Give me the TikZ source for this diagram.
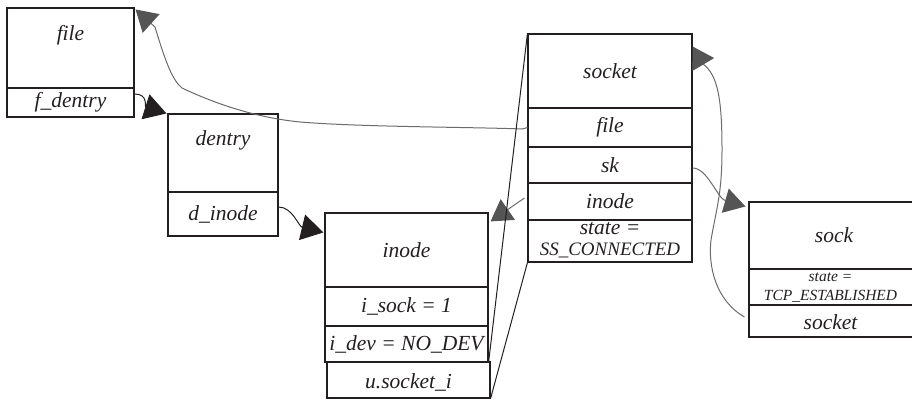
\documentclass[tikz,border=0pt]{standalone}
\usepackage{fontspec}
\setmainfont{Liberation Serif}
\usetikzlibrary{arrows.meta}
\definecolor{ink}{HTML}{231F20}
\definecolor{gline}{HTML}{6B6B6B}
\definecolor{garrow}{HTML}{555555}
\begin{document}
\begin{tikzpicture}[x=1pt,y=-1pt,
  fld/.style 2 args={draw=ink, line width=1.1pt, inner sep=0pt, minimum width=#1pt, minimum height=#2pt, text=ink, font=\fontsize{21.5}{24}\selectfont\itshape},
  lbl/.style={inner sep=0pt, text=ink, font=\fontsize{21.5}{24}\selectfont\itshape, align=center},
  blk/.style={draw=ink, line width=1pt, -{Triangle[length=22pt,width=26pt,color=ink]}},
  gry/.style={draw=gline, line width=1pt, -{Triangle[length=21pt,width=25pt,color=garrow]}},
  ray/.style={draw=ink, line width=1pt}]
\useasboundingbox (0,0) rectangle (912,399);
% file
\node[fld={127}{80}] (file) at (70.5,48) {};
\node[lbl] (fileL) at (70.5,35) {file};
\node[fld={127}{29}] (fdentry) at (70.5,102.5) {f\_dentry};
% dentry
\node[fld={110}{78}] (dentry) at (223,153) {};
\node[lbl] (dentryL) at (223,140) {dentry};
\node[fld={110}{44}] (dinode) at (223,214) {d\_inode};
% inode
\node[fld={163}{74}] (inode) at (406.5,250) {inode};
\node[fld={163}{39}] (isock) at (406.5,306.5) {i\_sock = 1};
\node[fld={163}{36}] (idev) at (406.5,344) {i\_dev = NO\_DEV};
\node[fld={163}{36}] (usock) at (408.5,380) {};
\node[lbl] (usockL) at (408.5,382) {u.socket\_i};
% socket
\node[fld={164}{74}] (stitle) at (610,71) {socket};
\node[fld={164}{39}] (sfile) at (610,127.5) {file};
\node[fld={164}{36}] (ssk) at (610,165) {sk};
\node[fld={164}{37}] (sinode) at (610,201.5) {inode};
\node[fld={164}{42}] (sstate) at (610,241) {};
\node[lbl] (sstateA) at (610,229) {state =};
\node[lbl, font=\fontsize{19}{22}\selectfont\itshape] (sstateB) at (610,250) {SS\_CONNECTED};
% sock
\node[fld={170}{67}] (sock) at (834,235.5) {sock};
\node[fld={170}{36}] (kstate) at (834,287) {};
\node[lbl, font=\fontsize{15.5}{18}\selectfont\itshape] (kstateA) at (830.5,277.5) {state =};
\node[lbl, font=\fontsize{15.5}{18}\selectfont\itshape] (kstateB) at (830.5,296.5) {TCP\_ESTABLISHED};
\node[fld={170}{32}] (ksocket) at (834,321) {};
\node[lbl] (ksocketL) at (830.5,322) {socket};
% black pointers
\draw[blk] ([yshift=8.5pt]fdentry.east) .. controls +(14,0) and +(-22,-7) .. ([xshift=-1pt]dentry.north west);
\draw[blk] ([yshift=7pt]dinode.east) .. controls +(14,0) and +(-25,-6) .. ([shift={(-1pt,-20pt)}]inode.north west);
% gray pointers
\draw[gry] (sfile.west) -- ++(-5,1.5) .. controls (470,127) and (360,127) .. (300,122)
  .. controls (260,118) and (220,106) .. (182,88)
  .. controls (172,80) and (165,60) .. (155,27) -- ([shift={(1pt,-2pt)}]file.north east);
\draw[gry] ([shift={(-3pt,3.5pt)}]sinode.west) -- ([shift={(2pt,-9pt)}]inode.north east);
\draw[gry] ([yshift=-3pt]ssk.east) .. controls +(15,0) and +(-28,-8) .. ([shift={(-3pt,-5pt)}]sock.north west);
\draw[gry] ([shift={(-4pt,4pt)}]ksocket.west) .. controls (715,300) and (708,265) .. (711,240)
  .. controls (716,210) and (722,195) .. (722,150)
  .. controls (722,100) and (718,75) .. (703,64) -- ([yshift=-13pt]stitle.north east);
% expansion rays
\draw[ray] (stitle.north west) -- (idev.south east);
\draw[ray] (sstate.south west) -- (usock.south east);
\end{tikzpicture}
\end{document}
